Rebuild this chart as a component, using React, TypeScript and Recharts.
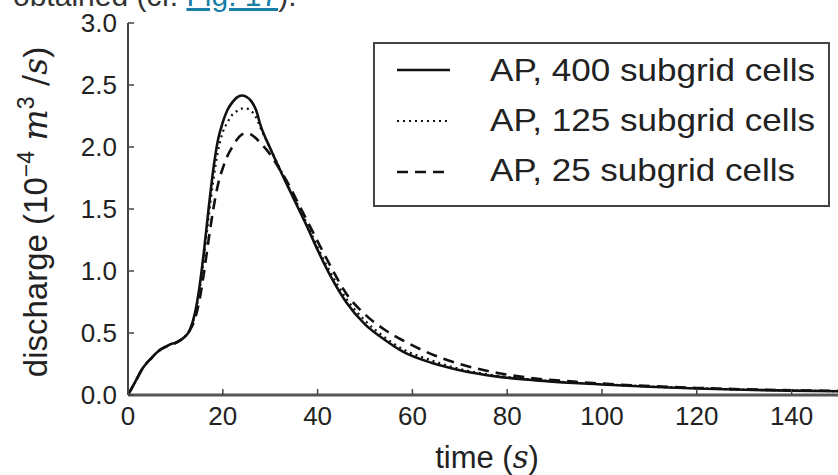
import { LineChart, Line, XAxis, YAxis, Legend } from "recharts";

const times = [
  0, 1, 2, 3, 4, 5, 6, 7, 8, 9, 10, 11, 12, 13, 14, 15, 16, 17, 18, 19, 20, 21,
  22, 23, 24, 25, 26, 27, 28, 30, 32, 34, 36, 38, 40, 43, 46, 50, 54, 58, 64, 70,
  78, 86, 94, 100, 110, 120, 130, 140, 150,
];

const ap400 = [
  0, 0.07, 0.14, 0.21, 0.26, 0.3, 0.34, 0.37, 0.39, 0.41, 0.42, 0.44, 0.47, 0.52,
  0.64, 0.85, 1.15, 1.5, 1.82, 2.06, 2.2, 2.3, 2.36, 2.4, 2.415, 2.405, 2.37, 2.3,
  2.17, 1.99, 1.82, 1.66, 1.5, 1.34, 1.17, 0.94, 0.75, 0.57, 0.45, 0.35, 0.26, 0.2,
  0.148, 0.118, 0.097, 0.085, 0.066, 0.052, 0.042, 0.035, 0.03,
];

const ap125 = [
  0, 0.07, 0.14, 0.21, 0.26, 0.3, 0.34, 0.37, 0.39, 0.41, 0.42, 0.44, 0.47, 0.52,
  0.63, 0.82, 1.1, 1.43, 1.73, 1.97, 2.12, 2.2, 2.26, 2.29, 2.31, 2.31, 2.29, 2.24,
  2.15, 1.99, 1.83, 1.67, 1.52, 1.36, 1.19, 0.97, 0.78, 0.6, 0.47, 0.37, 0.28, 0.21,
  0.155, 0.122, 0.1, 0.087, 0.068, 0.054, 0.043, 0.036, 0.031,
];

const ap25 = [
  0, 0.07, 0.14, 0.21, 0.26, 0.3, 0.34, 0.37, 0.39, 0.41, 0.42, 0.44, 0.47, 0.52,
  0.6, 0.75, 0.98, 1.25, 1.5, 1.7, 1.83, 1.93, 2.0, 2.06, 2.1, 2.11, 2.1, 2.07,
  2.03, 1.94, 1.82, 1.69, 1.54, 1.39, 1.24, 1.02, 0.82, 0.65, 0.53, 0.44, 0.33,
  0.25, 0.178, 0.133, 0.108, 0.092, 0.072, 0.057, 0.046, 0.038, 0.033,
];

const xTicks = [0, 20, 40, 60, 80, 100, 120, 140];
const yTicks = [0, 0.5, 1, 1.5, 2, 2.5, 3];

const series = [
  { key: "ap400", name: "AP, 400 subgrid cells", dash: undefined, width: 2.6, len: 325 },
  { key: "ap125", name: "AP, 125 subgrid cells", dash: "2 4", width: 2.2, len: 325 },
  { key: "ap25", name: "AP, 25 subgrid cells", dash: "11 7", width: 2.6, len: 305 },
];

const data = times.map((t, i) => ({
  t,
  ap400: ap400[i],
  ap125: ap125[i],
  ap25: ap25[i],
}));

const font = "'Liberation Sans', Arial, Helvetica, sans-serif";
const mathFont = "'DejaVu Serif', 'Liberation Serif', serif";
const ink = "#222";
const spine = "#444";

const LegendBox = () => (
  <div
    style={{
      width: 457,
      height: 165,
      boxSizing: "border-box",
      border: `2px solid ${spine}`,
      background: "#fff",
    }}
  >
    <svg width={453} height={161}>
      {series.map((s, i) => (
        <g key={s.key}>
          <line
            x1={22}
            x2={75}
            y1={26 + i * 51}
            y2={26 + i * 51}
            stroke="#111"
            strokeWidth={s.width}
            strokeDasharray={s.dash}
          />
          <text
            x={115}
            y={37 + i * 50}
            fontSize={32}
            fontFamily={font}
            fill={ink}
            textLength={s.len}
            lengthAdjust="spacingAndGlyphs"
          >
            {s.name}
          </text>
        </g>
      ))}
    </svg>
  </div>
);

export default function App() {
  return (
    <div
      style={{
        position: "fixed",
        left: 0,
        top: 0,
        width: 838,
        height: 475,
        overflow: "hidden",
        background: "#fff",
      }}
    >
      <div
        style={{
          position: "absolute",
          left: 13,
          top: -19,
          fontFamily: font,
          fontSize: 30,
          lineHeight: "30px",
          color: "#333",
          whiteSpace: "nowrap",
        }}
      >
        obtained (cf.{" "}
        <span style={{ color: "#1a7fa8", textDecoration: "underline" }}>
          Fig. 17
        </span>
        ).
      </div>
      <div style={{ position: "absolute", left: 0, top: 0 }}>
        <LineChart
          width={850}
          height={475}
          data={data}
          margin={{ top: 23, right: 11, bottom: 0, left: 0 }}
        >
          <XAxis
            dataKey="t"
            type="number"
            domain={[0, 150]}
            ticks={xTicks}
            height={80}
            tickSize={-6}
            tickMargin={18}
            axisLine={{ stroke: "#555", strokeWidth: 3 }}
            tickLine={{ stroke: spine, strokeWidth: 1.5 }}
            tick={{ fontSize: 26, fontFamily: font, fill: ink }}
            label={{
              content: ({ viewBox }: any) => (
                <text
                  x={viewBox.x + 359}
                  y={viewBox.y + 73}
                  textAnchor="middle"
                  fontSize={31}
                  fontFamily={font}
                  fill={ink}
                >
                  time (
                  <tspan fontFamily={mathFont} fontStyle="italic">
                    s
                  </tspan>
                  )
                </text>
              ),
            }}
          />
          <XAxis
            xAxisId="top"
            orientation="top"
            dataKey="t"
            type="number"
            domain={[0, 150]}
            ticks={xTicks}
            height={0}
            tickSize={-6}
            tick={false}
            axisLine={{ stroke: spine, strokeWidth: 2 }}
            tickLine={{ stroke: spine, strokeWidth: 1.5 }}
          />
          <YAxis
            type="number"
            domain={[0, 3]}
            ticks={yTicks}
            width={128}
            tickSize={-6}
            tickMargin={17}
            tickFormatter={(v: number) => v.toFixed(1)}
            axisLine={{ stroke: spine, strokeWidth: 2 }}
            tickLine={{ stroke: spine, strokeWidth: 1.5 }}
            tick={{ fontSize: 26, fontFamily: font, fill: ink }}
            label={{
              content: () => (
                <text
                  transform="translate(47, 212) rotate(-90)"
                  textAnchor="middle"
                  fontSize={33}
                  fontFamily={font}
                  fill={ink}
                >
                  discharge (10
                  <tspan fontSize={23} dy={-13}>
                    −4
                  </tspan>
                  <tspan dy={13} fontFamily={mathFont} fontStyle="italic">
                    {" "}m
                  </tspan>
                  <tspan fontSize={23} dy={-13}>
                    3
                  </tspan>
                  <tspan dy={13} fontFamily={mathFont}>
                    {" "}/
                  </tspan>
                  <tspan fontFamily={mathFont} fontStyle="italic">
                    s
                  </tspan>
                  )
                </text>
              ),
            }}
          />
          <YAxis
            yAxisId="right"
            orientation="right"
            type="number"
            domain={[0, 3]}
            ticks={yTicks}
            width={0}
            tickSize={-6}
            tick={false}
            axisLine={{ stroke: spine, strokeWidth: 2 }}
            tickLine={{ stroke: spine, strokeWidth: 1.5 }}
          />
          <Legend
            layout="vertical"
            verticalAlign="middle"
            align="center"
            wrapperStyle={{ position: "absolute", left: 373, top: 42, width: 457, height: 165 }}
            content={() => <LegendBox />}
          />
          {series.map((s) => (
            <Line
              key={s.key}
              dataKey={s.key}
              name={s.name}
              type="monotone"
              stroke="#111"
              strokeWidth={s.width}
              strokeDasharray={s.dash}
              dot={false}
              activeDot={false}
              isAnimationActive={false}
            />
          ))}
        </LineChart>
      </div>
    </div>
  );
}
